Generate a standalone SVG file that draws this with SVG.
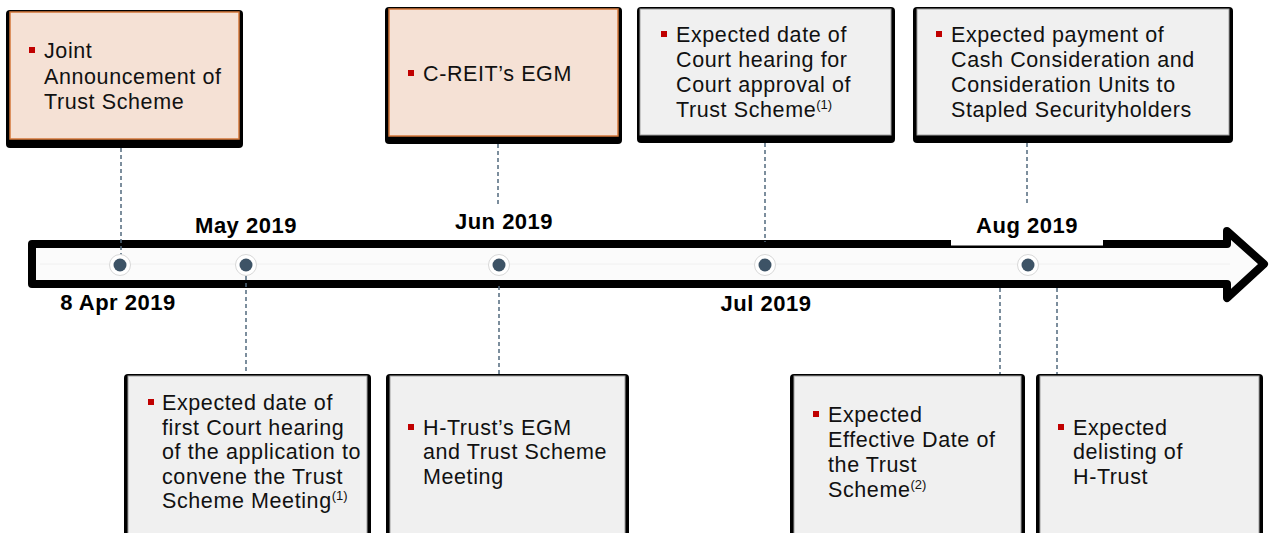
<svg xmlns="http://www.w3.org/2000/svg" width="1271" height="533" viewBox="0 0 1271 533">
<defs>
<style>
.shadow{fill:#000}
.orange{fill:#F5E1D5;stroke:#D4773A;stroke-width:1.5}
.grey{fill:#F0F0F0;stroke:#A0A0A0;stroke-width:1}
.txt{font-family:"Liberation Sans",Arial,sans-serif;font-size:21.5px;letter-spacing:0.6px;fill:#111}
.sup{font-size:13px;letter-spacing:0}
.bul{fill:#C00000}
.date{font-family:"Liberation Sans",Arial,sans-serif;font-size:22px;letter-spacing:0.5px;font-weight:bold;fill:#000;text-anchor:middle}
.dash{stroke:#52697d;stroke-width:1.5;stroke-dasharray:4 3;fill:none}
.dotring{fill:#fff;stroke:#d8d8d8;stroke-width:1}
.dot{fill:#3D5366}
</style>
</defs>
<rect width="1271" height="533" fill="#fff"/>

<g id="timeline">
<path d="M32,244 L1227,244 L1227,231 L1264,264 L1227,298 L1227,284 L32,284 Z" fill="#FBFBFB" stroke="#000" stroke-width="8" stroke-linejoin="round"/>
<line x1="40" y1="264" x2="1230" y2="264" stroke="#f0f0f0" stroke-width="1"/>
<rect x="951" y="205" width="152" height="40.5" fill="#fff"/>
</g>

<g id="connectors">
<line class="dash" x1="121" y1="148" x2="121" y2="255"/>
<line class="dash" x1="498" y1="144" x2="498" y2="205"/>
<line class="dash" x1="765" y1="143" x2="765" y2="242"/>
<line class="dash" x1="1027" y1="143" x2="1027" y2="205"/>
<line class="dash" x1="246" y1="276" x2="246" y2="374"/>
<line class="dash" x1="499" y1="286" x2="499" y2="374"/>
<line class="dash" x1="1000" y1="288" x2="1000" y2="374"/>
<line class="dash" x1="1057" y1="288" x2="1057" y2="374"/>
</g>

<g id="dots">
<circle class="dotring" cx="120" cy="265" r="10.5"/><circle class="dot" cx="120" cy="265" r="6.5"/>
<circle class="dotring" cx="246" cy="265" r="10.5"/><circle class="dot" cx="246" cy="265" r="6.5"/>
<circle class="dotring" cx="499" cy="265" r="10.5"/><circle class="dot" cx="499" cy="265" r="6.5"/>
<circle class="dotring" cx="765" cy="265" r="10.5"/><circle class="dot" cx="765" cy="265" r="6.5"/>
<circle class="dotring" cx="1028" cy="265" r="10.5"/><circle class="dot" cx="1028" cy="265" r="6.5"/>
</g>

<g id="dates">
<text class="date" x="118" y="310">8 Apr 2019</text>
<text class="date" x="246" y="233">May 2019</text>
<text class="date" x="504" y="229">Jun 2019</text>
<text class="date" x="766" y="311">Jul 2019</text>
<text class="date" x="1027" y="233">Aug 2019</text>
</g>

<g id="box-joint">
<rect class="shadow" x="6" y="10" width="237" height="138" rx="4"/>
<rect class="orange" x="10" y="12" width="229" height="127"/>
<rect class="bul" x="29" y="47" width="6" height="6"/>
<text class="txt"><tspan x="44" y="58">Joint</tspan><tspan x="44" y="84">Announcement of</tspan><tspan x="44" y="109">Trust Scheme</tspan></text>
</g>

<g id="box-creit">
<rect class="shadow" x="385" y="7" width="237" height="137" rx="4"/>
<rect class="orange" x="389" y="9" width="229" height="127"/>
<rect class="bul" x="408" y="70" width="6" height="6"/>
<text class="txt" x="423" y="81">C-REIT’s EGM</text>
</g>

<g id="box-court-approval">
<rect class="shadow" x="637" y="7" width="258" height="136" rx="4"/>
<rect class="grey" x="640" y="9" width="251" height="126"/>
<rect class="bul" x="661" y="31" width="6" height="6"/>
<text class="txt"><tspan x="676" y="42">Expected date of</tspan><tspan x="676" y="67">Court hearing for</tspan><tspan x="676" y="92">Court approval of</tspan><tspan x="676" y="117">Trust Scheme<tspan class="sup" dy="-8">(1)</tspan></tspan></text>
</g>

<g id="box-payment">
<rect class="shadow" x="913" y="7" width="320" height="136" rx="4"/>
<rect class="grey" x="917" y="9" width="312" height="126"/>
<rect class="bul" x="936" y="31" width="6" height="6"/>
<text class="txt"><tspan x="951" y="42">Expected payment of</tspan><tspan x="951" y="67">Cash Consideration and</tspan><tspan x="951" y="92">Consideration Units to</tspan><tspan x="951" y="117">Stapled Securityholders</tspan></text>
</g>

<g id="box-first-hearing">
<rect class="shadow" x="124" y="374" width="247" height="170" rx="4"/>
<rect class="grey" x="128" y="376" width="239" height="170"/>
<rect class="bul" x="148" y="399" width="6" height="6"/>
<text class="txt"><tspan x="162" y="410">Expected date of</tspan><tspan x="162" y="435">first Court hearing</tspan><tspan x="162" y="459">of the application to</tspan><tspan x="162" y="484">convene the Trust</tspan><tspan x="162" y="508">Scheme Meeting<tspan class="sup" dy="-8">(1)</tspan></tspan></text>
</g>

<g id="box-htrust-egm">
<rect class="shadow" x="386" y="374" width="243" height="170" rx="4"/>
<rect class="grey" x="390" y="376" width="235" height="170"/>
<rect class="bul" x="408" y="424" width="6" height="6"/>
<text class="txt"><tspan x="423" y="435">H-Trust’s EGM</tspan><tspan x="423" y="459">and Trust Scheme</tspan><tspan x="423" y="484">Meeting</tspan></text>
</g>

<g id="box-effective">
<rect class="shadow" x="790" y="374" width="235" height="170" rx="4"/>
<rect class="grey" x="794" y="376" width="227" height="170"/>
<rect class="bul" x="813" y="411" width="6" height="6"/>
<text class="txt"><tspan x="828" y="422">Expected</tspan><tspan x="828" y="447">Effective Date of</tspan><tspan x="828" y="472">the Trust</tspan><tspan x="828" y="497">Scheme<tspan class="sup" dy="-8">(2)</tspan></tspan></text>
</g>

<g id="box-delisting">
<rect class="shadow" x="1036" y="374" width="227" height="170" rx="4"/>
<rect class="grey" x="1040" y="376" width="219" height="170"/>
<rect class="bul" x="1058" y="424" width="6" height="6"/>
<text class="txt"><tspan x="1073" y="435">Expected</tspan><tspan x="1073" y="459">delisting of</tspan><tspan x="1073" y="484">H-Trust</tspan></text>
</g>
</svg>
